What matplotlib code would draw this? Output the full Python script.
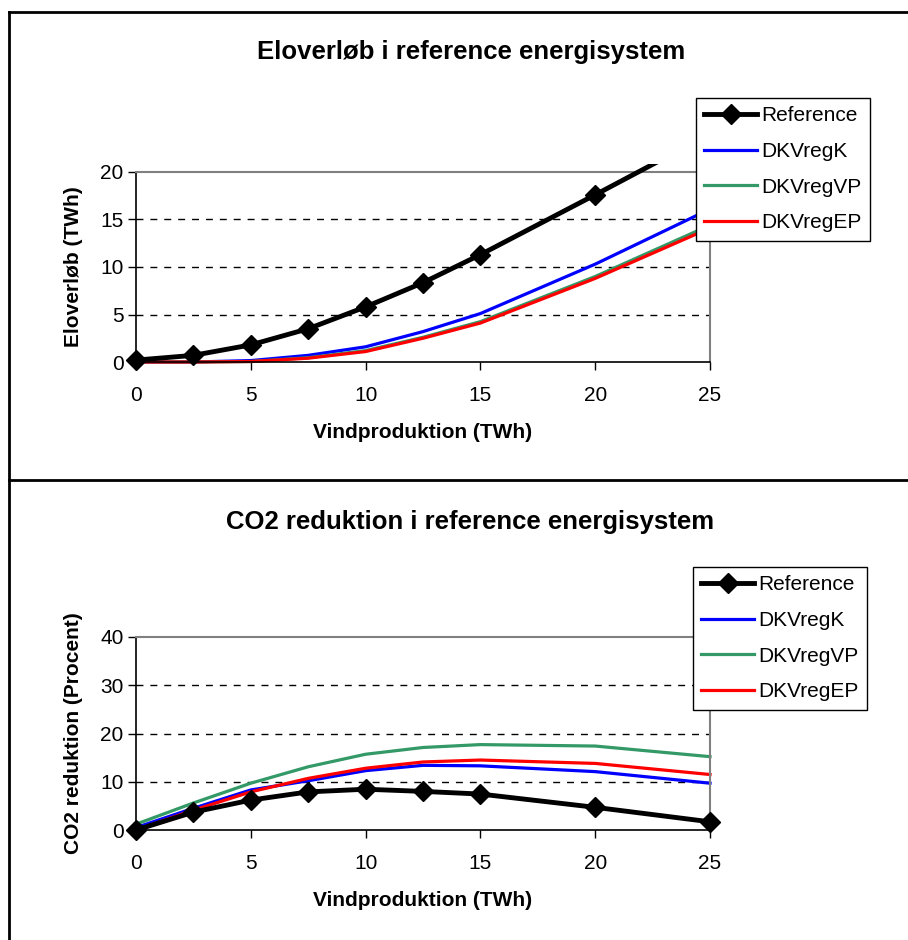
import matplotlib
matplotlib.use("Agg")
import matplotlib.pyplot as plt
from matplotlib.lines import Line2D
from matplotlib.patches import Rectangle

plt.rcParams['font.family'] = ['Liberation Sans', 'DejaVu Sans']

# Wind production (TWh)
wind = [0, 2.5, 5, 7.5, 10, 12.5, 15, 20, 25]

# Electricity surplus (TWh)
surplus_reference = [0.2, 0.7, 1.8, 3.5, 5.8, 8.35, 11.3, 17.6, 24.0]
surplus_dkvregk = [0.0, 0.0, 0.15, 0.7, 1.6, 3.2, 5.1, 10.3, 16.1]
surplus_dkvregvp = [0.0, 0.0, 0.05, 0.45, 1.2, 2.6, 4.25, 9.0, 14.4]
surplus_dkvregep = [0.0, 0.0, 0.05, 0.4, 1.1, 2.5, 4.1, 8.8, 14.1]

# CO2 reduction (percent)
co2_reference = [0.0, 3.7, 6.2, 7.9, 8.45, 8.0, 7.45, 4.7, 1.7]
co2_dkvregk = [0.5, 4.5, 8.3, 10.2, 12.3, 13.4, 13.3, 12.1, 9.7]
co2_dkvregvp = [1.2, 5.6, 9.7, 13.1, 15.7, 17.1, 17.7, 17.4, 15.2]
co2_dkvregep = [0.0, 4.1, 7.9, 10.7, 12.8, 14.1, 14.5, 13.8, 11.5]

series_names = ['Reference', 'DKVregK', 'DKVregVP', 'DKVregEP']
series_colors = ['#000000', '#0000FF', '#339966', '#FF0000']

W, H = 908, 940
fig = plt.figure(figsize=(W / 100, H / 100), dpi=100)

FS = 15


def fx(px):
    return px / W


def fy(py):
    return 1 - py / H


def style_axes(ax, ymax, ystep):
    ax.set_xlim(0, 25)
    ax.set_ylim(0, ymax)
    ax.set_xticks(range(0, 26, 5))
    ax.set_yticks(range(0, ymax + 1, ystep))
    for y in range(ystep, ymax, ystep):
        ax.axhline(y, color='black', lw=1.0, ls=(0, (5, 5)), zorder=1)
    ax.spines['top'].set_color('#808080')
    ax.spines['right'].set_color('#808080')
    ax.spines['top'].set_linewidth(1.5)
    ax.spines['right'].set_linewidth(1.5)
    ax.spines['left'].set_color('black')
    ax.spines['bottom'].set_color('black')
    ax.spines['left'].set_linewidth(1.2)
    ax.spines['bottom'].set_linewidth(1.2)
    ax.tick_params(axis='both', direction='out', length=6, width=1.0,
                   labelsize=FS, color='black')
    ax.tick_params(axis='x', pad=11)
    ax.tick_params(axis='y', pad=3)
    ax.set_xlabel('Vindproduktion (TWh)', fontsize=FS, fontweight='bold',
                  labelpad=13)


def draw_series(ax, data, clip_patch=None):
    handles = []
    for i, (vals, name, col) in enumerate(zip(data, series_names, series_colors)):
        if i == 0:
            ln, = ax.plot(wind, vals, color=col, lw=3.5, marker='D', ms=10,
                          label=name, zorder=5)
        else:
            ln, = ax.plot(wind, vals, color=col, lw=2.3, label=name, zorder=2 + i * 0.1)
        if clip_patch is not None:
            ln.set_clip_path(clip_patch)
        else:
            ln.set_clip_on(False)
        handles.append(ln)
    return handles


def add_legend(ax, left_px, top_px):
    leg = ax.legend(loc='upper left',
                    bbox_to_anchor=(fx(left_px), fy(top_px)),
                    bbox_transform=fig.transFigure,
                    fontsize=FS, frameon=True, fancybox=False,
                    edgecolor='black', framealpha=1, borderpad=0.4,
                    labelspacing=0.8, handlelength=2.55, handletextpad=0.2,
                    borderaxespad=0)
    leg.get_frame().set_linewidth(1.0)
    leg.set_zorder(10)
    return leg


# Upper chart: electricity surplus
ax1 = fig.add_axes([fx(136), fy(362), fx(710) - fx(136), fy(172) - fy(362)])
style_axes(ax1, 20, 5)
clip1 = Rectangle((-0.05, -0.1), 1.1, 1.142, transform=ax1.transAxes)
draw_series(ax1, [surplus_reference, surplus_dkvregk, surplus_dkvregvp,
                  surplus_dkvregep], clip_patch=clip1)
ax1.set_ylabel('Eloverløb (TWh)', fontsize=FS, fontweight='bold', labelpad=12)
add_legend(ax1, 696, 98)
fig.text(fx(471), fy(52), 'Eloverløb i reference energisystem', ha='center',
         va='center', fontsize=18.5, fontweight='bold')

# Lower chart: CO2 reduction
ax2 = fig.add_axes([fx(136), fy(830), fx(710) - fx(136), fy(637) - fy(830)])
style_axes(ax2, 40, 10)
draw_series(ax2, [co2_reference, co2_dkvregk, co2_dkvregvp, co2_dkvregep])
ax2.set_ylabel('CO2 reduktion (Procent)', fontsize=FS, fontweight='bold',
               labelpad=12)
add_legend(ax2, 693, 567)
fig.text(fx(470), fy(522), 'CO2 reduktion i reference energisystem', ha='center',
         va='center', fontsize=18.5, fontweight='bold')

# Chart borders
for xs, ys in [([9, 9], [12, 940]), ([9, 908], [12, 12]), ([9, 908], [480, 480])]:
    fig.add_artist(Line2D([fx(x) for x in xs], [fy(y) for y in ys],
                          transform=fig.transFigure, color='black', lw=2.0))

fig.savefig('out.png', dpi=100)
